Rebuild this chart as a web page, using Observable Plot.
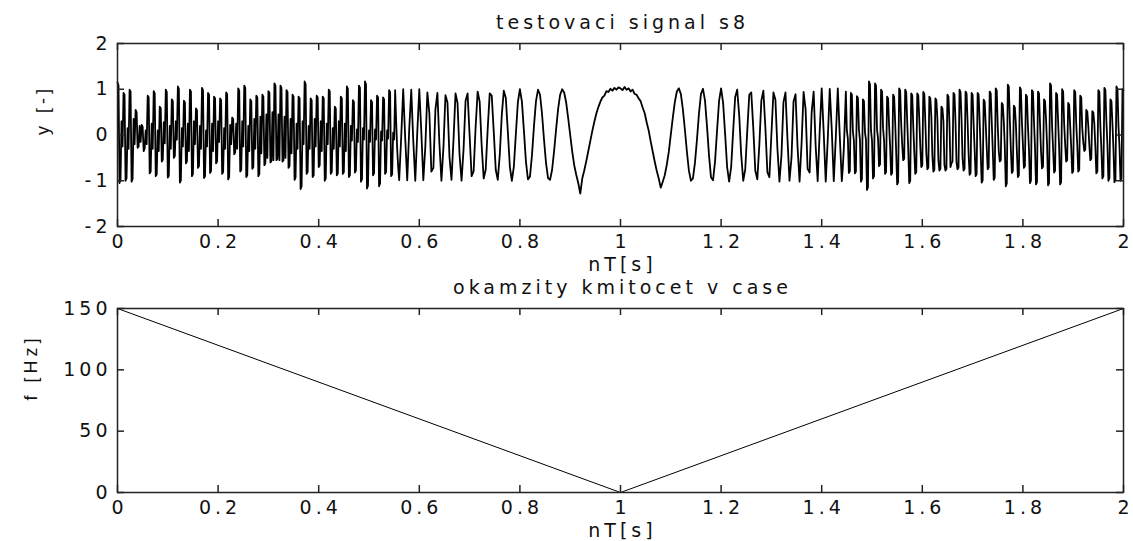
<!DOCTYPE html>
<html><head><meta charset="utf-8">
<script src="https://cdn.jsdelivr.net/npm/d3@7"></script>
<script src="https://cdn.jsdelivr.net/npm/@observablehq/plot@0.6"></script>
<style>
html,body{margin:0;padding:0;background:#fff;}
#wrap{position:relative;width:1133px;height:541px;overflow:hidden;background:#fff;}
#wrap svg{position:absolute;left:0;}
</style></head><body><div id="wrap"></div>
<script>
// ---- data ----
// edge parts sampled every 2 ms, middle part every 4 ms
const edgeStep = 0.002;
const centerStep = 0.004;
const centerStart = 0.56;
const rightStart = 1.442;
// left edge, t = 0 .. 0.558 (per bar: top, top, bottom, bottom, two core values)
const sigLeft = [
1.15,1.08,-1.05,-0.98,0.30,-0.25,
0.92,0.88,-1.00,-0.95,0.15,-0.30,
0.99,0.95,-1.02,-0.96,0.35,-0.20,
0.55,0.50,-0.28,-0.25,0.20,-0.15,
0.22,0.18,-0.35,-0.30,0.10,-0.20,
0.86,0.82,-0.84,-0.80,0.25,-0.30,
0.96,0.91,-0.90,-0.86,0.10,-0.35,
0.62,0.58,-0.58,-0.54,0.28,-0.18,
0.99,0.94,-0.93,-0.89,0.20,-0.30,
0.78,0.74,-0.50,-0.46,0.30,-0.10,
1.06,1.01,-1.04,-0.99,0.15,-0.25,
0.75,0.71,-0.62,-0.58,0.25,-0.35,
0.99,0.95,-0.90,-0.85,0.30,-0.20,
0.58,0.54,-0.72,-0.68,0.20,-0.30,
1.03,0.98,-0.94,-0.90,0.10,-0.25,
0.92,0.88,-0.83,-0.79,0.25,-0.35,
0.84,0.80,-0.62,-0.58,0.30,-0.15,
0.80,0.76,-0.85,-0.81,0.15,-0.30,
0.93,0.89,-0.97,-0.92,0.22,-0.20,
0.38,0.35,-0.42,-0.38,0.25,-0.30,
1.02,0.97,-0.80,-0.76,0.30,-0.25,
1.08,1.03,-0.92,-0.88,0.20,-0.35,
0.78,0.74,-0.74,-0.70,0.35,-0.30,
0.86,0.82,-0.90,-0.85,0.40,-0.40,
0.88,0.84,-0.66,-0.62,0.45,-0.50,
0.96,0.92,-0.60,-0.57,0.50,-0.55,
1.13,1.08,-0.55,-0.52,0.45,-0.55,
1.08,1.03,-0.58,-0.55,0.40,-0.50,
0.98,0.94,-0.72,-0.68,0.35,-0.40,
0.88,0.84,-0.98,-0.93,0.25,-0.30,
0.84,0.80,-1.18,-1.12,0.30,-0.20,
1.17,1.11,-0.85,-0.81,0.20,-0.30,
0.80,0.76,-0.92,-0.88,0.35,-0.25,
0.86,0.82,-0.70,-0.66,0.30,-0.35,
0.84,0.80,-1.00,-0.95,0.25,-0.20,
0.99,0.95,-0.85,-0.81,0.15,-0.30,
0.62,0.58,-0.88,-0.84,0.30,-0.25,
0.84,0.80,-0.85,-0.81,0.25,-0.35,
1.06,1.01,-0.92,-0.88,0.20,-0.12,
0.76,0.72,-0.82,-0.78,0.12,-0.15,
1.08,1.03,-1.02,-0.97,0.15,-0.10,
1.17,1.11,-1.17,-1.11,0.10,-0.15,
0.76,0.72,-0.88,-0.84,0.12,-0.10,
0.86,0.82,-1.12,-1.06,0.08,-0.12,
0.82,0.78,-0.85,-0.81,0.10,-0.08,
0.98,0.93,-0.90,-0.86,0.05,-0.10,
0.98,0.30,-0.30,-0.70
];
// middle part, t = 0.56 .. 1.44
const sigCenter = [
-0.99,-0.05,1.00,-0.07,-0.99,0.13,0.99,-0.12,-1.00,0.06,
1.00,0.07,-0.99,-0.25,0.93,0.48,-0.80,-0.72,0.55,0.92,
-0.19,-1.00,-0.27,0.87,0.71,-0.48,-0.98,-0.11,0.91,0.70,
-0.43,-1.00,-0.31,0.75,0.91,0.00,-0.90,-0.79,0.18,0.95,
0.73,-0.23,-0.95,-0.76,0.14,0.91,0.86,0.08,-0.76,-0.98,
-0.43,0.44,0.97,0.81,0.08,-0.69,-1.00,-0.69,0.03,0.72,
1.00,0.73,0.09,-0.58,-0.97,-0.91,-0.44,0.20,0.74,0.99,
0.88,0.46,-0.11,-0.62,-0.94,-0.98,-0.76,-0.35,0.13,0.57,
0.88,1.00,0.93,0.71,0.37,0.00,-0.36,-0.66,-0.87,-1.05,
-1.28,-0.95,-0.77,-0.57,-0.35,-0.13,0.09,0.29,0.47,0.61,
0.73,0.82,0.86,0.96,0.94,1.01,0.97,1.03,0.99,1.04,
1.02,
0.98,1.05,0.99,1.02,0.95,0.99,0.90,0.88,0.80,0.74,
0.60,0.48,0.28,0.10,-0.14,-0.36,-0.58,-0.78,-0.95,-1.15,
-1.02,-0.88,-0.65,-0.37,0.01,0.38,0.72,0.95,1.02,0.90,
0.56,0.12,-0.36,-0.78,-1.00,-0.95,-0.61,-0.10,0.47,0.90,
1.01,0.75,0.19,-0.45,-0.93,-0.99,-0.57,0.10,0.75,1.02,
0.70,0.02,-0.70,-1.02,-0.70,0.09,0.83,0.99,0.43,-0.44,
-1.00,-0.75,0.09,0.88,0.93,0.15,-0.78,-0.97,-0.22,0.75,
0.97,0.17,-0.81,-0.92,0.01,0.93,0.77,-0.30,-1.02,-0.44,
0.72,0.93,-0.10,-1.00,-0.49,0.73,0.89,-0.26,-1.02,-0.18,
0.94,0.56,-0.74,-0.82,0.49,0.95,-0.24,-1.01,0.08,1.02,
0.05,-1.02,-0.11,1.01,0.12,-1.01,-0.06,1.02,-0.04,-1.01
];
// right edge, t = 1.442 .. 2 (per bar: two core values, bottom, bottom, top, top)
const sigRight = [
-0.70,-0.30,0.30,0.95,
0.10,-0.08,-0.83,-0.79,0.92,0.88,
0.08,-0.12,-0.84,-0.80,0.85,0.81,
0.12,-0.10,-1.02,-0.97,0.78,0.74,
0.06,-0.10,-1.20,-1.14,1.17,1.11,
0.10,-0.12,-0.95,-0.90,1.13,1.08,
0.12,-0.08,-0.68,-0.64,0.99,0.95,
0.15,-0.12,-0.85,-0.81,0.84,0.80,
0.20,-0.25,-0.87,-0.83,0.88,0.84,
0.30,-0.35,-1.08,-1.03,1.02,0.97,
0.25,-0.20,-0.55,-0.52,0.99,0.94,
0.30,-0.30,-1.05,-1.00,0.91,0.87,
0.20,-0.35,-0.85,-0.81,0.91,0.87,
0.35,-0.25,-0.70,-0.66,0.94,0.90,
0.30,-0.40,-0.75,-0.71,0.84,0.80,
0.40,-0.45,-0.80,-0.76,0.80,0.76,
0.35,-0.55,-0.78,-0.74,0.62,0.58,
0.30,-0.65,-0.78,-0.74,0.88,0.84,
0.25,-0.70,-0.62,-0.58,0.92,0.88,
0.30,-0.60,-0.75,-0.71,0.99,0.94,
0.35,-0.50,-0.78,-0.74,0.95,0.91,
0.30,-0.40,-0.87,-0.83,0.92,0.88,
0.25,-0.30,-0.90,-0.86,0.92,0.88,
0.30,-0.35,-1.04,-0.99,0.77,0.73,
0.25,-0.25,-0.75,-0.71,0.95,0.91,
0.30,-0.30,-0.98,-0.93,1.02,0.97,
0.20,-0.35,-0.58,-0.55,0.70,0.66,
0.30,-0.25,-1.12,-1.06,1.10,1.05,
0.35,-0.30,-0.83,-0.79,0.64,0.60,
0.25,-0.35,-0.92,-0.88,1.04,0.99,
0.30,-0.20,-0.72,-0.68,0.88,0.84,
0.20,-0.30,-1.05,-1.00,0.98,0.94,
0.30,-0.25,-1.08,-1.03,0.95,0.91,
0.25,-0.35,-0.73,-0.69,0.78,0.74,
0.35,-0.20,-1.10,-1.05,1.13,1.08,
0.20,-0.30,-0.82,-0.78,0.92,0.88,
0.30,-0.25,-1.08,-1.03,1.00,0.95,
0.25,-0.20,-0.58,-0.55,0.70,0.66,
0.20,-0.25,-0.83,-0.79,0.98,0.94,
0.25,-0.20,-0.80,-0.76,0.86,0.82,
0.15,-0.15,-0.35,-0.32,0.55,0.51,
0.20,-0.20,-0.55,-0.52,0.52,0.49,
0.25,-0.25,-0.84,-0.80,0.98,0.94,
0.20,-0.30,-0.95,-0.90,1.03,0.98,
0.30,-0.20,-1.00,-0.95,0.78,0.74,
0.25,-0.30,-1.03,-0.98,1.06,1.01,
0.20,-0.25,-1.00,-0.95,1.00,0.98
];
const freqTime = [0, 1, 2];
const freqHz = [150, 0, 150];
const xTicks = [0, 0.2, 0.4, 0.6, 0.8, 1, 1.2, 1.4, 1.6, 1.8, 2];
const yTicksTop = [-2, -1, 0, 1, 2];
const yTicksBottom = [0, 50, 100, 150];
const titleTop = "testovaci signal s8";
const titleBottom = "okamzity kmitocet v case";
const xLabel = "nT[s]";
const yLabelTop = "y [-]";
const yLabelBottom = "f [Hz]";

// ---- build tables ----
const sig = [
  ...sigLeft.map((v, i) => ({t: i * edgeStep, y: v})),
  ...sigCenter.map((v, i) => ({t: centerStart + i * centerStep, y: v})),
  ...sigRight.map((v, i) => ({t: rightStart + i * edgeStep, y: v}))
];
const freq = freqTime.map((t, i) => ({t, f: freqHz[i]}));

const W = 1133, ML = 117, MR = 10;
const FW = W - ML - MR;
const baseStyle = {fontFamily: "'DejaVu Sans', sans-serif", fontSize: "19px", letterSpacing: "4px", color: "#111", background: "transparent", overflow: "visible"};
const tickLen = 7;

function frameMarks(xt, yt, FH) {
  return [
    Plot.frame({stroke: "#222", strokeWidth: 1.5}),
    Plot.tickX(xt, {x: d => d, insetTop: FH - tickLen, stroke: "#222", strokeWidth: 1.5}),
    Plot.tickX(xt, {x: d => d, insetBottom: FH - tickLen, stroke: "#222", strokeWidth: 1.5}),
    Plot.tickY(yt, {y: d => d, insetRight: FW - tickLen, stroke: "#222", strokeWidth: 1.5}),
    Plot.tickY(yt, {y: d => d, insetLeft: FW - tickLen, stroke: "#222", strokeWidth: 1.5})
  ];
}

// top plot
const H1 = 276, MT1 = 43, MB1 = 50;
const FH1 = H1 - MT1 - MB1;
const p1 = Plot.plot({
  width: W, height: H1, marginTop: MT1, marginBottom: MB1, marginLeft: ML, marginRight: MR,
  style: baseStyle,
  x: {domain: [0, 2]},
  y: {domain: [-2, 2]},
  marks: [
    Plot.line(sig, {x: "t", y: "y", stroke: "#000", strokeWidth: 1.8}),
    ...frameMarks(xTicks, yTicksTop, FH1),
    Plot.axisX(xTicks, {tickSize: 0, tickPadding: 8, tickFormat: d => String(d), label: null, dx: 2}),
    Plot.axisY(yTicksTop, {tickSize: 0, tickPadding: 6, tickFormat: d => String(d), label: null}),
    Plot.text([titleTop], {frameAnchor: "top", lineAnchor: "bottom", dy: -15, dx: 2}),
    Plot.text([xLabel], {frameAnchor: "bottom", lineAnchor: "bottom", dy: 44, dx: 2}),
    Plot.text([yLabelTop], {frameAnchor: "left", rotate: -90, dx: -74, fontFamily: "'Liberation Sans', Arial, sans-serif", fontSize: 18, ariaLabel: "ylab"})
  ]
});
p1.style.top = "0px";

// bottom plot
const H2 = 265, MT2 = 32, MB2 = 49;
const FH2 = H2 - MT2 - MB2;
const p2 = Plot.plot({
  width: W, height: H2, marginTop: MT2, marginBottom: MB2, marginLeft: ML, marginRight: MR,
  style: baseStyle,
  x: {domain: [0, 2]},
  y: {domain: [0, 150]},
  marks: [
    Plot.line(freq, {x: "t", y: "f", stroke: "#000", strokeWidth: 1}),
    ...frameMarks(xTicks, yTicksBottom, FH2),
    Plot.axisX(xTicks, {tickSize: 0, tickPadding: 8, tickFormat: d => String(d), label: null, dx: 2}),
    Plot.axisY(yTicksBottom, {tickSize: 0, tickPadding: 6, tickFormat: d => String(d), label: null}),
    Plot.text([titleBottom], {frameAnchor: "top", lineAnchor: "bottom", dy: -14.5, dx: 2}),
    Plot.text([xLabel], {frameAnchor: "bottom", lineAnchor: "bottom", dy: 44, dx: 2}),
    Plot.text([yLabelBottom], {frameAnchor: "left", rotate: -90, dx: -86, fontFamily: "'Liberation Sans', Arial, sans-serif", fontSize: 18, ariaLabel: "ylab"})
  ]
});
p2.style.top = H1 + "px";

const wrap = document.getElementById("wrap");
wrap.appendChild(p1);
wrap.appendChild(p2);
for (const s of [p1, p2]) {
  s.querySelectorAll('[aria-label="ylab"]').forEach(g => g.style.letterSpacing = "0.5px");
}
</script></body></html>
